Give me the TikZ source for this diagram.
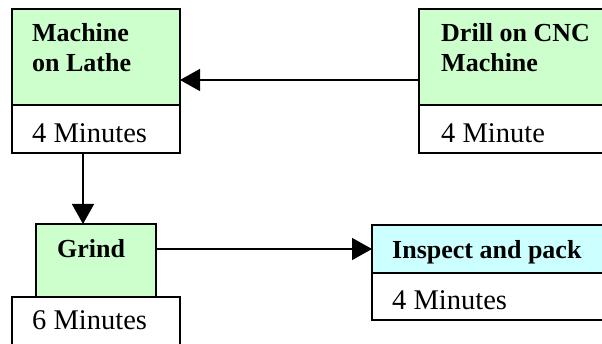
\documentclass[tikz,border=0pt]{standalone}
\usepackage{fontspec}
\setmainfont{Liberation Serif}
\usetikzlibrary{arrows.meta}
\definecolor{boxgreen}{HTML}{CCFFCC}
\definecolor{boxcyan}{HTML}{CCFFFF}
\tikzset{
  boxline/.style={draw=black, line width=1.5pt},
  head/.style={boxline, anchor=north west, inner sep=0pt, outer sep=0pt},
  greenhead/.style={head, fill=boxgreen},
  cyanhead/.style={head, fill=boxcyan},
  timebox/.style={head, fill=white},
  boldtxt/.style={inner sep=0pt, anchor=base west, font=\fontsize{26}{30}\selectfont\bfseries},
  plaintxt/.style={inner sep=0pt, anchor=base west, font=\fontsize{28.5}{30}\selectfont},
  flow/.style={line width=1.4pt, -{Triangle[length=20pt, width=22pt]}}
}
\begin{document}
\begin{tikzpicture}[x=1pt, y=-1pt]
\clip (0,0) rectangle (602,344);
\fill[white] (0,0) rectangle (602,344);
% Machine on Lathe
\node[greenhead, minimum width=168pt, minimum height=96pt] (lathe) at (12,9) {};
\node[timebox, minimum width=168pt, minimum height=48pt] (lathet) at (12,105) {};
\node[boldtxt] (lathe1) at (32,42) {Machine};
\node[boldtxt] (lathe2) at (32,72) {on Lathe};
\node[plaintxt] (lathe3) at (32,143) {4 Minutes};
% Drill on CNC Machine
\node[greenhead, minimum width=210pt, minimum height=96pt] (drill) at (419,9) {};
\node[timebox, minimum width=210pt, minimum height=48pt] (drillt) at (419,105) {};
\node[boldtxt] (drill1) at (441,42) {Drill on CNC};
\node[boldtxt] (drill2) at (441,72) {Machine};
\node[plaintxt] (drill3) at (441,143) {4 Minute};
% Grind
\node[timebox, minimum width=168pt, minimum height=70pt] (grindt) at (12,297) {};
\node[greenhead, minimum width=120pt, minimum height=73pt] (grind) at (36,224) {};
\node[boldtxt] (grind1) at (57,258) {Grind};
\node[plaintxt] (grind2) at (32,330) {6 Minutes};
% Inspect and pack
\node[cyanhead, minimum width=240pt, minimum height=48pt] (insp) at (372,225) {};
\node[timebox, minimum width=240pt, minimum height=47pt] (inspt) at (372,273) {};
\node[boldtxt] (insp1) at (392,259) {Inspect and pack};
\node[plaintxt] (insp2) at (392,310) {4 Minutes};
% connectors
\draw[flow] (drill.west |- 0,80) -- (lathe.east |- 0,80);
\draw[flow] (lathet.south -| 83,0) -- (grind.north -| 83,0);
\draw[flow] (grind.east |- 0,249) -- (insp.west |- 0,249);
\end{tikzpicture}
\end{document}
